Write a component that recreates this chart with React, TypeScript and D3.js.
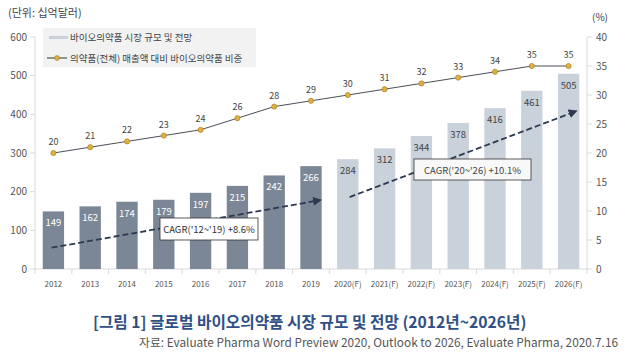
import React from "react";
import * as d3 from "d3";

const categories = ["2012","2013","2014","2015","2016","2017","2018","2019","2020(F)","2021(F)","2022(F)","2023(F)","2024(F)","2025(F)","2026(F)"];
const marketSize = [149,162,174,179,197,215,242,266,284,312,344,378,416,461,505];
const isForecast = [false,false,false,false,false,false,false,false,true,true,true,true,true,true,true];
const share = [20,21,22,23,24,26,28,29,30,31,32,33,34,35,35];
const leftTicks = [0,100,200,300,400,500,600];
const rightTicks = [0,5,10,15,20,25,30,35,40];
const legendLabels = ["바이오의약품 시장 규모 및 전망", "의약품(전체) 매출액 대비 바이오의약품 비중"];
const cagrLabels = ["CAGR('12~'19)  +8.6%", "CAGR('20~'26)  +10.1%"];
// arrows in (category index, left value) space
const arrow1 = { x0: -0.05, v0: 55, x1: 7.25, v1: 178 };
const arrow2 = { x0: 8.05, v0: 186, x1: 14.2, v1: 408 };

const W = 631, H = 355;
const L = 35, R = 587, T = 37, B = 269;
const font = "'Noto Sans CJK KR', 'Noto Sans', sans-serif";

export default function App() {
  const x = d3.scaleBand<string>().domain(categories).range([L, R]).paddingInner(0.42).paddingOuter(0.21);
  const xb = d3.scaleBand<string>().domain(categories).range([L, R]);
  const yL = d3.scaleLinear().domain([0, 600]).range([B, T]);
  const yR = d3.scaleLinear().domain([0, 40]).range([B, T]);
  const cx = (i: number) => xb(categories[0])! + xb.bandwidth() * (i + 0.5);
  const line = d3.line<number>().x((_, i) => cx(i)).y(d => yR(d));
  const dark = "#7b8796", light = "#c9d1db";

  const arrow = (a: typeof arrow1, id: string) => {
    const x0 = cx(a.x0), y0 = yL(a.v0), x1 = cx(a.x1), y1 = yL(a.v1);
    return <line key={id} x1={x0} y1={y0} x2={x1} y2={y1} stroke="#2d3a4f" strokeWidth={1.8} strokeDasharray="6,3" markerEnd="url(#arr)" />;
  };

  return (
    <svg width={W} height={H} style={{ position: "absolute", left: 0, top: 0, background: "#fff" }} fontFamily={font}>
      <defs>
        <marker id="arr" viewBox="0 0 10 10" refX="8" refY="5" markerWidth="5" markerHeight="5" orient="auto">
          <path d="M0,0 L10,5 L0,10 z" fill="#2d3a4f" />
        </marker>
      </defs>
      <text x={8} y={17} fontSize={11} fill="#444">(단위: 십억달러)</text>
      <text x={592} y={21} fontSize={10} fill="#444">(%)</text>

      {/* left axis */}
      <line x1={L} x2={L} y1={T} y2={B} stroke="#d9d9d9" />
      {leftTicks.map(t => (
        <g key={"l" + t}>
          <line x1={L - 5} x2={L} y1={yL(t)} y2={yL(t)} stroke="#d9d9d9" />
          <text x={L - 8} y={yL(t) + 3.5} fontSize={10} fill="#555" textAnchor="end">{t}</text>
        </g>
      ))}
      {/* right axis */}
      <line x1={R} x2={R} y1={T} y2={B} stroke="#d9d9d9" />
      {rightTicks.map(t => (
        <g key={"r" + t}>
          <line x1={R} x2={R + 5} y1={yR(t)} y2={yR(t)} stroke="#d9d9d9" />
          <text x={R + 9} y={yR(t) + 3.5} fontSize={10} fill="#555">{t}</text>
        </g>
      ))}
      {/* x axis */}
      <line x1={L} x2={R} y1={B} y2={B} stroke="#d9d9d9" />
      {categories.map((c, i) => (
        <line key={"xt" + i} x1={xb(c)!} x2={xb(c)!} y1={B} y2={B + 5} stroke="#d9d9d9" />
      ))}
      <line x1={R} x2={R} y1={B} y2={B + 5} stroke="#d9d9d9" />
      {categories.map((c, i) => (
        <text key={"xl" + i} x={cx(i)} y={287} fontSize={8} fill="#555" textAnchor="middle">{c}</text>
      ))}

      {/* bars */}
      {marketSize.map((v, i) => (
        <g key={"b" + i}>
          <rect x={x(categories[i])!} y={yL(v)} width={x.bandwidth()} height={B - yL(v)} fill={isForecast[i] ? light : dark} />
          <text x={cx(i)} y={yL(v) + 15} fontSize={9.5} textAnchor="middle" fill={isForecast[i] ? "#444" : "#fff"}>{v}</text>
        </g>
      ))}

      {/* line */}
      <path d={line(share)!} fill="none" stroke="#4a4f58" strokeWidth={1} />
      {share.map((v, i) => (
        <g key={"p" + i}>
          <circle cx={cx(i)} cy={yR(v)} r={2.6} fill="#e0b040" stroke="#a07820" strokeWidth={0.6} />
          <text x={cx(i)} y={yR(v) - 8} fontSize={9} textAnchor="middle" fill="#444">{v}</text>
        </g>
      ))}

      {/* arrows */}
      {arrow(arrow1, "a1")}
      {arrow(arrow2, "a2")}

      {/* CAGR boxes */}
      <rect x={160} y={218} width={98} height={22} fill="#fff" stroke="#333" strokeWidth={0.8} />
      <text x={209} y={233} fontSize={9.5} textAnchor="middle" fill="#333">{cagrLabels[0]}</text>
      <rect x={414} y={159} width={117} height={21} fill="#f8f8f8" stroke="#333" strokeWidth={0.8} />
      <text x={472.5} y={173.5} fontSize={9.5} textAnchor="middle" fill="#444">{cagrLabels[1]}</text>

      {/* legend */}
      <rect x={43} y={28} width={213} height={39} fill="#f2f2f2" />
      <rect x={49} y={36} width={19} height={3} fill={light} />
      <text x={70} y={41} fontSize={9.5} fill="#444">{legendLabels[0]}</text>
      <line x1={47} x2={67} y1={58} y2={58} stroke="#333" />
      <circle cx={57} cy={58} r={2.4} fill="#e0b040" stroke="#a07820" strokeWidth={0.6} />
      <text x={70} y={61.5} fontSize={9.5} fill="#444">{legendLabels[1]}</text>

      {/* caption */}
      <text x={93} y={328} fontSize={15.7} fontWeight="bold" fill="#2f4f86">[그림 1] 글로벌 바이오의약품 시장 규모 및 전망 (2012년~2026년)</text>
      <text x={618} y={347} fontSize={11.8} fill="#555" textAnchor="end">자료: Evaluate Pharma Word Preview 2020, Outlook to 2026, Evaluate Pharma, 2020.7.16</text>
    </svg>
  );
}
